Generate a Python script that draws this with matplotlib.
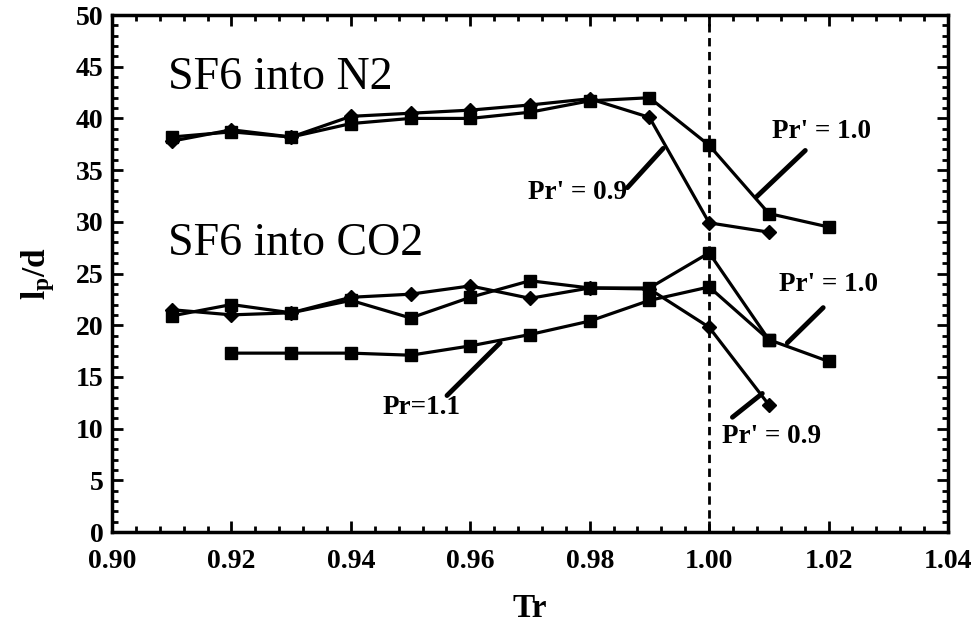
import matplotlib
matplotlib.use('Agg')
import matplotlib.pyplot as plt
from matplotlib.ticker import MultipleLocator

plt.rcParams['font.family'] = ['Liberation Serif', 'DejaVu Serif']
plt.rcParams['font.weight'] = 'bold'
plt.rcParams['mathtext.fontset'] = 'custom'
plt.rcParams['mathtext.rm'] = 'Liberation Serif:bold'
plt.rcParams['mathtext.it'] = 'Liberation Serif:bold'

# SF6 into N2
tr_n2 = [0.91, 0.92, 0.93, 0.94, 0.95, 0.96, 0.97, 0.98, 0.99, 1.00, 1.01, 1.02]
n2_pr10 = [38.2, 38.7, 38.2, 39.5, 40.0, 40.0, 40.6, 41.7, 42.0, 37.4, 30.8, 29.5]
tr_n2_09 = [0.91, 0.92, 0.93, 0.94, 0.95, 0.96, 0.97, 0.98, 0.99, 1.00, 1.01]
n2_pr09 = [37.8, 38.9, 38.2, 40.2, 40.5, 40.8, 41.3, 41.9, 40.1, 29.9, 29.0]

# SF6 into CO2
tr_co2 = [0.91, 0.92, 0.93, 0.94, 0.95, 0.96, 0.97, 0.98, 0.99, 1.00, 1.01, 1.02]
co2_pr10 = [20.9, 22.0, 21.2, 22.4, 20.7, 22.7, 24.3, 23.6, 23.6, 27.0, 18.6, 16.5]
tr_co2_09 = [0.91, 0.92, 0.93, 0.94, 0.95, 0.96, 0.97, 0.98, 0.99, 1.00, 1.01]
co2_pr09 = [21.5, 21.0, 21.2, 22.7, 23.0, 23.8, 22.6, 23.6, 23.5, 19.8, 12.3]
tr_co2_11 = [0.92, 0.93, 0.94, 0.95, 0.96, 0.97, 0.98, 0.99, 1.00, 1.01]
co2_pr11 = [17.3, 17.3, 17.3, 17.1, 18.0, 19.1, 20.4, 22.4, 23.7, 18.6]

# (text, text position, leader start, leader end)
notes = [
    ("Pr' = 1.0", (1.0188, 38.7), (1.0161, 36.9), (1.0079, 32.4)),
    ("Pr' = 0.9", (0.9780, 32.8), (0.9863, 33.3), (0.9923, 37.1)),
    ("Pr' = 1.0", (1.0200, 23.9), (1.0191, 21.7), (1.0131, 18.3)),
    ("Pr' = 0.9", (1.0105, 9.2), (1.0039, 11.1), (1.0089, 13.4)),
    ("Pr=1.1", (0.9518, 12.0), (0.9561, 13.2), (0.9650, 18.3)),
]

fig = plt.figure(figsize=(9.76, 6.36), dpi=100)
ax = fig.add_axes([0.1148, 0.1635, 0.8565, 0.8129])

lw = 2.3
ax.plot(tr_n2, n2_pr10, '-s', color='black', lw=lw, ms=9)
ax.plot(tr_n2_09, n2_pr09, '-D', color='black', lw=lw, ms=7.5)
ax.plot(tr_co2, co2_pr10, '-s', color='black', lw=lw, ms=9)
ax.plot(tr_co2_09, co2_pr09, '-D', color='black', lw=lw, ms=7.5)
ax.plot(tr_co2_11, co2_pr11, '-s', color='black', lw=lw, ms=9)

ax.axvline(1.00, color='black', lw=2, linestyle=(0, (3, 2)))

for text, tpos, p0, p1 in notes:
    ax.text(tpos[0], tpos[1], text, fontsize=19.5, fontweight='bold',
            ha='center', va='center')
    ax.annotate('', xy=p1, xytext=p0,
                arrowprops=dict(arrowstyle='-', color='black', lw=3.5,
                                shrinkA=0, shrinkB=0))

ax.text(0.9094, 43.9, 'SF6 into N2', fontsize=33, fontweight='normal',
        ha='left', va='center')
ax.text(0.9094, 27.9, 'SF6 into CO2', fontsize=33, fontweight='normal',
        ha='left', va='center')

ax.set_xlim(0.90, 1.04)
ax.set_ylim(0, 50)
ax.xaxis.set_major_locator(MultipleLocator(0.02))
ax.xaxis.set_minor_locator(MultipleLocator(0.004))
ax.yaxis.set_major_locator(MultipleLocator(5))
ax.yaxis.set_minor_locator(MultipleLocator(1))
ax.set_xticklabels([f'{v:.2f}' for v in ax.get_xticks()])
ax.tick_params(which='both', direction='in', top=True, right=True,
               labelsize=20, width=2)
ax.tick_params(which='major', length=8)
ax.tick_params(axis='x', which='major', pad=12)
ax.tick_params(axis='y', which='major', pad=6)
ax.tick_params(which='minor', length=4)
for lbl in ax.get_xticklabels() + ax.get_yticklabels():
    lbl.set_fontweight('bold')
for s in ax.spines.values():
    s.set_linewidth(2.5)

ax.set_xlabel('Tr', fontsize=24, fontweight='bold', labelpad=14)
ax.set_ylabel(r'l$_\mathrm{p}$/d', fontsize=24, fontweight='bold', labelpad=14)

fig.savefig('out.png', dpi=100)
